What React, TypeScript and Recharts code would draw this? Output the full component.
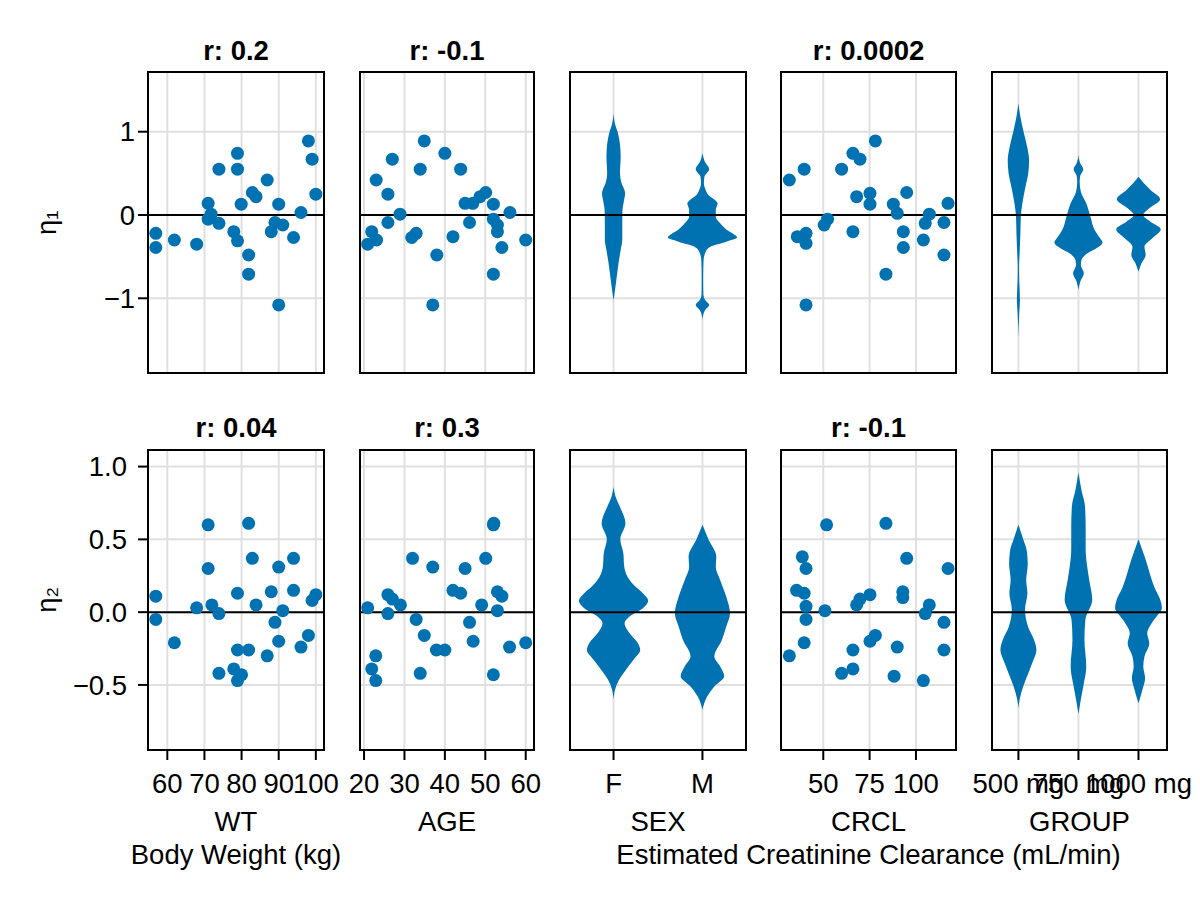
import React from 'react';
import { ComposedChart, Scatter, Area, XAxis, YAxis, CartesianGrid, ReferenceLine } from 'recharts';

const BLUE = '#0072B2';
const FONT = '"Liberation Sans", Helvetica, Arial, sans-serif';
const FS = 27.5;

// ---------------- data ----------------
// scatter panels: [covariate, eta]
const WT_ETA1 = [
  [56.9, -0.22], [56.9, -0.39], [61.9, -0.3], [67.9, -0.35], [71.0, 0.14], [71.8, 0.01], [71.0, -0.05],
  [73.9, -0.1], [73.9, 0.55], [78.9, 0.74], [78.9, 0.55], [77.9, -0.2], [78.9, -0.31], [79.9, 0.13],
  [81.9, -0.48], [81.9, -0.71], [82.9, 0.27], [83.9, 0.22], [86.9, 0.42], [88.0, -0.2], [89.0, -0.09],
  [90.0, 0.13], [90.0, -1.08], [91.1, -0.12], [94.0, -0.27], [96.0, 0.03], [98.0, 0.89], [99.0, 0.67],
  [100.0, 0.25],
];
const WT_ETA2 = [
  [56.9, 0.11], [56.9, -0.05], [61.9, -0.21], [67.9, 0.03], [71.0, 0.6], [71.0, 0.3], [72.0, 0.05],
  [73.9, -0.01], [73.9, -0.42], [77.9, -0.39], [78.9, -0.47], [80.0, -0.43], [78.9, -0.26], [78.9, 0.13],
  [81.9, -0.26], [81.9, 0.61], [82.9, 0.37], [83.9, 0.05], [86.9, -0.3], [88.0, 0.14], [89.0, -0.07],
  [90.0, 0.31], [90.0, -0.2], [91.1, 0.01], [94.0, 0.37], [94.0, 0.15], [96.0, -0.24], [98.0, -0.16],
  [99.0, 0.08], [100.0, 0.12],
];
const AGE_ETA1 = [
  [20.9, -0.35], [21.9, -0.2], [23.1, -0.3], [23.0, 0.42], [25.9, 0.25], [25.9, -0.09], [27.0, 0.67],
  [28.9, 0.01], [31.8, -0.27], [32.9, -0.22], [33.9, 0.55], [34.9, 0.89], [37.0, -1.08], [38.0, -0.48],
  [40.0, 0.74], [42.0, -0.26], [43.9, 0.55], [45.0, 0.14], [46.9, 0.14], [46.1, -0.09], [48.7, 0.22],
  [50.1, 0.27], [52.0, 0.13], [52.0, -0.05], [53.0, -0.12], [53.0, -0.2], [54.1, -0.39], [52.0, -0.71],
  [56.1, 0.03], [60.0, -0.3],
];
const AGE_ETA2 = [
  [20.9, 0.03], [22.9, -0.3], [21.9, -0.39], [22.9, -0.47], [25.9, 0.12], [27.0, 0.09], [29.0, 0.05],
  [25.9, -0.01], [32.0, 0.37], [32.9, -0.05], [34.9, -0.16], [33.9, -0.42], [37.0, 0.31], [37.9, -0.26],
  [40.0, -0.26], [42.0, 0.15], [43.9, 0.13], [45.0, 0.3], [46.1, -0.07], [47.0, -0.2], [49.1, 0.05],
  [50.1, 0.37], [52.0, 0.6], [52.1, 0.61], [53.0, 0.14], [54.1, 0.11], [53.0, 0.01], [52.0, -0.43],
  [56.0, -0.24], [60.0, -0.21],
];
const CRCL_ETA1 = [
  [31.7, 0.42], [39.7, 0.55], [36.0, -0.26], [40.7, -0.22], [40.7, -0.34], [40.7, -1.08], [50.5, -0.12],
  [52.3, -0.05], [59.9, 0.55], [66.0, 0.74], [69.8, 0.67], [66.0, -0.2], [68.0, 0.22], [75.2, 0.26],
  [75.2, 0.13], [78.1, 0.89], [83.8, -0.71], [87.8, 0.13], [89.9, 0.02], [95.0, 0.27], [93.2, -0.2],
  [93.2, -0.39], [104.0, -0.3], [105.0, -0.1], [107.2, 0.01], [115.1, -0.09], [115.1, -0.48], [117.3, 0.14],
];
const CRCL_ETA2 = [
  [31.7, -0.3], [38.7, 0.38], [40.7, 0.3], [35.6, 0.15], [39.7, 0.13], [40.7, 0.04], [40.7, -0.05],
  [39.7, -0.21], [51.8, 0.6], [50.9, 0.01], [59.9, -0.42], [66.0, -0.39], [66.0, -0.26], [68.0, 0.05],
  [69.8, 0.09], [75.2, 0.12], [75.2, -0.2], [78.1, -0.16], [83.8, 0.61], [88.2, -0.44], [89.9, -0.24],
  [92.9, 0.14], [92.9, 0.1], [95.0, 0.37], [104.0, -0.47], [105.0, -0.01], [107.2, 0.05], [115.1, -0.07],
  [115.1, -0.26], [117.3, 0.3],
];

// violin profiles: [eta, half width in category units]
const SEX_F_ETA1 = [
  [1.22, 0], [1.1, 0.015], [1.0, 0.045], [0.85, 0.072], [0.7, 0.08], [0.5, 0.072], [0.4, 0.085],
  [0.26, 0.13], [0.16, 0.115], [0.05, 0.1], [-0.1, 0.098], [-0.3, 0.098], [-0.42, 0.08], [-0.55, 0.06],
  [-0.75, 0.035], [-0.95, 0.01], [-1.02, 0],
];
const SEX_M_ETA1 = [
  [0.74, 0], [0.64, 0.027], [0.55, 0.076], [0.46, 0.022], [0.38, 0.016], [0.3, 0.036], [0.24, 0.067],
  [0.18, 0.14], [0.14, 0.17], [0.06, 0.15], [-0.02, 0.15], [-0.1, 0.2], [-0.18, 0.276], [-0.24, 0.365],
  [-0.27, 0.39], [-0.32, 0.267], [-0.38, 0.09], [-0.44, 0.036], [-0.55, 0.012], [-0.75, 0.008],
  [-0.95, 0.01], [-1.02, 0.03], [-1.08, 0.076], [-1.14, 0.03], [-1.2, 0.008], [-1.26, 0],
];
const G500_ETA1 = [
  [1.34, 0], [1.18, 0.033], [1.0, 0.086], [0.82, 0.145], [0.66, 0.178], [0.5, 0.164], [0.34, 0.118],
  [0.14, 0.066], [-0.02, 0.04], [-0.22, 0.033], [-0.46, 0.02], [-0.62, 0.01], [-0.78, 0.013],
  [-1.02, 0.026], [-1.18, 0.013], [-1.46, 0],
];
const G750_ETA1 = [
  [0.72, 0], [0.62, 0.03], [0.55, 0.08], [0.47, 0.03], [0.4, 0.02], [0.28, 0.04], [0.14, 0.13],
  [-0.02, 0.2], [-0.18, 0.27], [-0.28, 0.36], [-0.33, 0.4], [-0.4, 0.3], [-0.46, 0.15], [-0.54, 0.05],
  [-0.6, 0.04], [-0.7, 0.09], [-0.8, 0.03], [-0.9, 0],
];
const G1000_ETA1 = [
  [0.46, 0], [0.38, 0.09], [0.3, 0.2], [0.19, 0.36], [0.08, 0.18], [0.0, 0.08], [-0.08, 0.2],
  [-0.17, 0.37], [-0.28, 0.23], [-0.38, 0.1], [-0.48, 0.12], [-0.58, 0.05], [-0.68, 0],
];
const SEX_F_ETA2 = [
  [0.86, 0], [0.78, 0.03], [0.725, 0.07], [0.61, 0.134], [0.5, 0.076], [0.405, 0.11], [0.313, 0.12],
  [0.24, 0.16], [0.176, 0.245], [0.13, 0.33], [0.078, 0.39], [0.027, 0.33], [-0.03, 0.18], [-0.076, 0.124],
  [-0.145, 0.18], [-0.21, 0.27], [-0.26, 0.3], [-0.33, 0.22], [-0.4, 0.134], [-0.465, 0.062],
  [-0.53, 0.018], [-0.6, 0],
];
const SEX_M_ETA2 = [
  [0.6, 0], [0.5, 0.067], [0.38, 0.156], [0.31, 0.15], [0.22, 0.2], [0.107, 0.267], [-0.007, 0.31],
  [-0.1, 0.267], [-0.19, 0.22], [-0.305, 0.134], [-0.373, 0.2], [-0.44, 0.245], [-0.51, 0.134],
  [-0.58, 0.053], [-0.67, 0],
];
const G500_ETA2 = [
  [0.6, 0], [0.5, 0.08], [0.42, 0.14], [0.33, 0.155], [0.22, 0.13], [0.13, 0.15], [0.02, 0.11],
  [-0.1, 0.16], [-0.19, 0.26], [-0.26, 0.3], [-0.35, 0.23], [-0.42, 0.165], [-0.51, 0.08], [-0.6, 0.02],
  [-0.66, 0],
];
const G750_ETA2 = [
  [0.96, 0], [0.84, 0.05], [0.725, 0.11], [0.59, 0.12], [0.43, 0.12], [0.3, 0.15], [0.22, 0.18],
  [0.085, 0.23], [-0.053, 0.115], [-0.19, 0.1], [-0.373, 0.13], [-0.51, 0.08], [-0.6, 0.04], [-0.7, 0],
];
const G1000_ETA2 = [
  [0.5, 0], [0.36, 0.12], [0.176, 0.26], [0.062, 0.38], [0.027, 0.39], [-0.02, 0.32], [-0.076, 0.22],
  [-0.145, 0.145], [-0.213, 0.18], [-0.305, 0.1], [-0.373, 0.08], [-0.453, 0.11], [-0.533, 0.066],
  [-0.625, 0],
];

// ticks, labels, titles
const WT_TICKS = [60, 70, 80, 90, 100];
const AGE_TICKS = [20, 30, 40, 50, 60];
const CRCL_TICKS = [50, 75, 100];
const SEX_TICKS = [1, 2];
const GROUP_TICKS = [1, 2, 3];
const SEX_LABELS = ['F', 'M'];
const GROUP_LABELS = ['500 mg', '750 mg', '1000 mg'];
const ETA1_TICKS = [-1, 0, 1];
const ETA2_TICKS = [-0.5, 0, 0.5, 1];
const TITLES_ROW1 = ['r: 0.2', 'r: -0.1', '', 'r: 0.0002', ''];
const TITLES_ROW2 = ['r: 0.04', 'r: 0.3', '', 'r: -0.1', ''];
const COVARIATES = ['WT', 'AGE', 'SEX', 'CRCL', 'GROUP'];
const ETA_LABELS = ['η₁', 'η₂'];
const WT_DESC = 'Body Weight (kg)';
const CRCL_DESC = 'Estimated Creatinine Clearance (mL/min)';

// axis limits
const WT_DOMAIN: [number, number] = [54.8, 102.2];
const AGE_DOMAIN: [number, number] = [19.0, 62.05];
const CRCL_DOMAIN: [number, number] = [27.2, 121.6];
const SEX_DOMAIN: [number, number] = [0.51, 2.49];
const GROUP_DOMAIN: [number, number] = [0.56, 3.475];
const ETA1_DOMAIN: [number, number] = [-1.897, 1.717];
const ETA2_DOMAIN: [number, number] = [-0.947, 1.114];

// ---------------- layout ----------------
const COLS = [[148, 324], [360, 534], [570, 746], [781, 956], [992, 1167]];
const ROWS = [[72, 373], [450, 750]];

const pts = (a: number[][]) => a.map(([x, y]) => ({ x, y }));
const vio = (a: number[][]) => a.map(([y, w]) => ({ y, w })).sort((p, q) => p.y - q.y);
const num = (v: number) => String(v);
const fmtEta1 = (v: number) => (v < 0 ? '\u2212' : '') + Math.abs(v).toString();
const fmtEta2 = (v: number) => (v < 0 ? '\u2212' : '') + Math.abs(v).toFixed(1);

type Spec = {
  kind: 'scatter' | 'violin';
  points?: { x: number; y: number }[];
  violins?: { center: number; data: { y: number; w: number }[] }[];
  xDomain: [number, number];
  xTicks: number[];
  xFmt: (v: number) => string;
};

const sexFmt = (v: number) => SEX_LABELS[v - 1] ?? '';
const groupFmt = (v: number) => GROUP_LABELS[v - 1] ?? '';

const ROW_SPECS: Spec[][] = [
  [
    { kind: 'scatter', points: pts(WT_ETA1), xDomain: WT_DOMAIN, xTicks: WT_TICKS, xFmt: num },
    { kind: 'scatter', points: pts(AGE_ETA1), xDomain: AGE_DOMAIN, xTicks: AGE_TICKS, xFmt: num },
    { kind: 'violin', violins: [SEX_F_ETA1, SEX_M_ETA1].map((d, i) => ({ center: SEX_TICKS[i], data: vio(d) })), xDomain: SEX_DOMAIN, xTicks: SEX_TICKS, xFmt: sexFmt },
    { kind: 'scatter', points: pts(CRCL_ETA1), xDomain: CRCL_DOMAIN, xTicks: CRCL_TICKS, xFmt: num },
    { kind: 'violin', violins: [G500_ETA1, G750_ETA1, G1000_ETA1].map((d, i) => ({ center: GROUP_TICKS[i], data: vio(d) })), xDomain: GROUP_DOMAIN, xTicks: GROUP_TICKS, xFmt: groupFmt },
  ],
  [
    { kind: 'scatter', points: pts(WT_ETA2), xDomain: WT_DOMAIN, xTicks: WT_TICKS, xFmt: num },
    { kind: 'scatter', points: pts(AGE_ETA2), xDomain: AGE_DOMAIN, xTicks: AGE_TICKS, xFmt: num },
    { kind: 'violin', violins: [SEX_F_ETA2, SEX_M_ETA2].map((d, i) => ({ center: SEX_TICKS[i], data: vio(d) })), xDomain: SEX_DOMAIN, xTicks: SEX_TICKS, xFmt: sexFmt },
    { kind: 'scatter', points: pts(CRCL_ETA2), xDomain: CRCL_DOMAIN, xTicks: CRCL_TICKS, xFmt: num },
    { kind: 'violin', violins: [G500_ETA2, G750_ETA2, G1000_ETA2].map((d, i) => ({ center: GROUP_TICKS[i], data: vio(d) })), xDomain: GROUP_DOMAIN, xTicks: GROUP_TICKS, xFmt: groupFmt },
  ],
];

const hiddenTick = () => null;
const dot = (p: any) => <circle cx={p.cx} cy={p.cy} r={6.5} fill={BLUE} />;

function Panel({ row, col, spec }: { row: number; col: number; spec: Spec }) {
  const [L, R] = COLS[col];
  const [T, B] = ROWS[row];
  const showX = row === 1;
  const showY = col === 0;
  const yW = showY ? 100 : 0;
  const xH = showX ? 70 : 0;
  const M = { top: 20, right: 70, bottom: 10, left: 20 };
  const w = R - L + M.left + M.right + yW;
  const h = B - T + M.top + M.bottom + xH;
  const vertical = spec.kind === 'violin';
  const tickStyle = { fill: '#000', fontSize: FS, fontFamily: FONT };
  const tickLine = { stroke: '#000', strokeWidth: 2 };
  return (
    <>
      <div style={{ position: 'absolute', left: L - M.left - yW, top: T - M.top }}>
        <ComposedChart width={w} height={h} margin={M} layout={vertical ? 'vertical' : 'horizontal'}>
          <CartesianGrid stroke="#e0e0e0" strokeWidth={2} />
          <XAxis
            type="number"
            dataKey={vertical ? undefined : 'x'}
            domain={spec.xDomain}
            ticks={spec.xTicks}
            allowDataOverflow
            interval={0}
            height={xH}
            axisLine={false}
            tickLine={showX ? tickLine : false}
            tick={showX ? tickStyle : hiddenTick}
            tickSize={10}
            tickMargin={13}
            tickFormatter={spec.xFmt}
          />
          <YAxis
            type="number"
            dataKey="y"
            reversed={vertical}
            domain={row === 0 ? ETA1_DOMAIN : ETA2_DOMAIN}
            ticks={row === 0 ? ETA1_TICKS : ETA2_TICKS}
            allowDataOverflow
            interval={0}
            width={yW}
            axisLine={false}
            tickLine={showY ? tickLine : false}
            tick={showY ? tickStyle : hiddenTick}
            tickSize={10}
            tickMargin={row === 0 ? 3 : 11}
            tickFormatter={row === 0 ? fmtEta1 : fmtEta2}
          />
          {spec.kind === 'scatter' && (
            <Scatter data={spec.points} dataKey="y" fill={BLUE} shape={dot} isAnimationActive={false} />
          )}
          {spec.kind === 'violin' &&
            spec.violins!.map((v, i) => (
              <Area
                key={i}
                data={v.data}
                dataKey={(d: any) => [v.center - d.w, v.center + d.w]}
                type="monotone"
                stroke="none"
                fill={BLUE}
                fillOpacity={1}
                dot={false}
                activeDot={false}
                isAnimationActive={false}
              />
            ))}
          <ReferenceLine y={0} stroke="#000" strokeWidth={2} />
        </ComposedChart>
      </div>
      <div
        style={{
          position: 'absolute',
          left: L - 1,
          top: T - 1,
          width: R - L + 2,
          height: B - T + 2,
          boxSizing: 'border-box',
          border: '2px solid #000',
          pointerEvents: 'none',
        }}
      />
    </>
  );
}

const textBase: React.CSSProperties = {
  position: 'absolute',
  fontSize: FS,
  lineHeight: `${FS}px`,
  height: FS,
  textAlign: 'center',
  whiteSpace: 'nowrap',
  color: '#000',
};

export default function App() {
  const titles = [TITLES_ROW1, TITLES_ROW2];
  const titleY = [50, 427.2];
  return (
    <div style={{ position: 'absolute', left: 0, top: 0, width: 1200, height: 900, background: '#fff', fontFamily: FONT, overflow: 'hidden' }}>
      {ROW_SPECS.map((rowSpecs, r) => rowSpecs.map((s, c) => <Panel key={`${r}-${c}`} row={r} col={c} spec={s} />))}
      {titles.map((row, r) =>
        row.map((t, c) =>
          t ? (
            <div key={`t${r}${c}`} style={{ ...textBase, fontWeight: 'bold', left: COLS[c][0], width: COLS[c][1] - COLS[c][0], top: titleY[r] - 13.4 }}>
              {t}
            </div>
          ) : null
        )
      )}
      {ETA_LABELS.map((lab, r) => (
        <div
          key={lab}
          style={{ ...textBase, left: 47 - 60, width: 120, top: (ROWS[r][0] + ROWS[r][1]) / 2 - FS / 2, transform: 'rotate(-90deg)' }}
        >
          {lab}
        </div>
      ))}
      {COVARIATES.map((lab, c) => (
        <div key={lab} style={{ ...textBase, left: COLS[c][0] - 50, width: COLS[c][1] - COLS[c][0] + 100, top: 821.7 - 13.4 }}>
          {lab}
        </div>
      ))}
      <div style={{ ...textBase, left: COLS[0][0] - 100, width: COLS[0][1] - COLS[0][0] + 200, top: 854 - 13.4 }}>{WT_DESC}</div>
      <div style={{ ...textBase, left: COLS[2][0] - 100, width: COLS[4][1] - COLS[2][0] + 200, top: 854 - 13.4 }}>{CRCL_DESC}</div>
    </div>
  );
}
